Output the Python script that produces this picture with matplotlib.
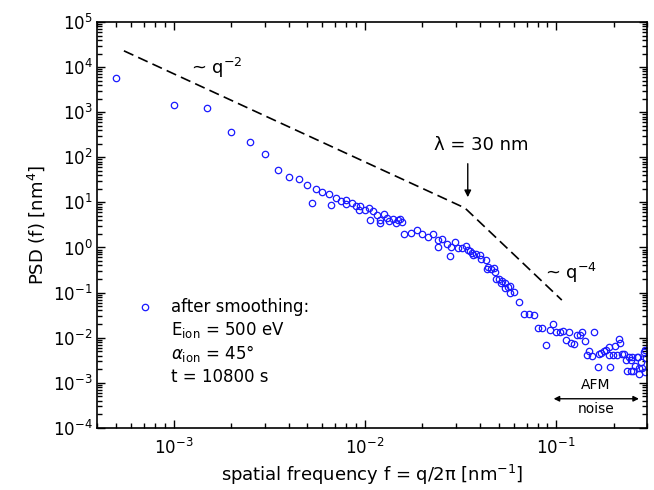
import numpy as np
import matplotlib
matplotlib.use("Agg")
import matplotlib.pyplot as plt

# spatial frequency [nm^-1] and PSD [nm^4]
freq = [5.0e-4, 1.0e-3, 1.5e-3, 2.0e-3, 2.5e-3, 3.0e-3, 3.5e-3, 4.0e-3, 4.5e-3, 5.0e-3,
        5.32e-3, 5.52e-3, 6.0e-3, 6.51e-3, 6.67e-3, 7.03e-3, 7.49e-3, 8.0e-3, 8.0e-3, 8.52e-3,
        9.02e-3, 9.47e-3, 9.35e-3, 1.0e-2, 1.049e-2, 1.067e-2, 1.104e-2, 1.152e-2, 1.198e-2, 1.204e-2,
        1.253e-2, 1.299e-2, 1.341e-2, 1.402e-2, 1.46e-2, 1.483e-2, 1.519e-2, 1.556e-2, 1.6e-2, 1.735e-2,
        1.87e-2, 2.0e-2, 2.137e-2, 2.27e-2, 2.40e-2, 2.40e-2, 2.54e-2, 2.68e-2, 2.80e-2, 2.81e-2,
        2.95e-2, 3.06e-2, 3.22e-2, 3.36e-2, 3.44e-2, 3.55e-2, 3.61e-2, 3.69e-2, 3.83e-2, 3.99e-2,
        4.05e-2, 4.29e-2, 4.37e-2, 4.41e-2, 4.54e-2, 4.74e-2, 4.79e-2, 4.83e-2, 5.05e-2, 5.24e-2,
        5.15e-2, 5.43e-2, 5.41e-2, 5.61e-2, 5.72e-2, 5.77e-2, 6.03e-2, 6.43e-2, 6.82e-2, 7.22e-2,
        7.66e-2, 8.05e-2, 8.47e-2, 8.84e-2, 9.25e-2, 9.65e-2, 9.96e-2, 0.1041, 0.1087, 0.112,
        0.1163, 0.1201, 0.124, 0.1288, 0.1326, 0.1371, 0.141, 0.148, 0.1576, 0.1444,
        0.1534, 0.1649, 0.1683, 0.172, 0.1769, 0.1832, 0.1881, 0.1895, 0.1922, 0.197,
        0.2023, 0.2075, 0.2135, 0.2151, 0.2208, 0.2267, 0.2317, 0.2345, 0.2388, 0.2452,
        0.2461, 0.2512, 0.2491, 0.2567, 0.263, 0.2688, 0.2721, 0.2725, 0.2767, 0.2821,
        0.2861, 0.2914, 0.2949, 0.2928]
psd = [5800, 1420, 1220, 370, 215, 118, 53.2, 36.6, 33.1, 24.7,
       9.7, 19.9, 17.0, 15.6, 8.78, 12.7, 10.9, 11.3, 9.23, 9.47,
       8.13, 8.34, 6.80, 6.90, 7.34, 4.12, 6.56, 5.32, 4.08, 3.56,
       5.62, 4.59, 3.92, 4.34, 3.56, 4.08, 4.23, 3.63, 2.03, 2.13,
       2.43, 1.95, 1.73, 2.0, 1.04, 1.44, 1.56, 1.19, 0.634, 1.04,
       1.33, 0.953, 0.977, 1.09, 0.861, 0.851, 0.769, 0.694, 0.719, 0.684,
       0.549, 0.530, 0.330, 0.376, 0.330, 0.347, 0.292, 0.198, 0.198, 0.184,
       0.161, 0.161, 0.125, 0.136, 0.0998, 0.141, 0.103, 0.0621, 0.0342, 0.0342,
       0.0323, 0.0167, 0.0167, 0.00698, 0.0150, 0.0196, 0.0136, 0.0136, 0.0137, 0.00883,
       0.0131, 0.00778, 0.0071, 0.0116, 0.0116, 0.0133, 0.00848, 0.00516, 0.0136, 0.00405,
       0.00394, 0.00227, 0.00442, 0.00453, 0.00514, 0.00522, 0.00415, 0.00634, 0.00225, 0.00413,
       0.00667, 0.00405, 0.00953, 0.00746, 0.00426, 0.00426, 0.00317, 0.00183, 0.0038, 0.00321,
       0.00186, 0.00186, 0.0038, 0.00234, 0.00375, 0.0038, 0.00157, 0.0021, 0.00295, 0.0021,
       0.00491, 0.00171, 0.00351, 0.00536]

# guide lines ~q^-2 and ~q^-4, break at lambda = 30 nm
guide_f = [5.5e-4, 1 / 30.0, 0.107]
guide_psd = [2.3e4, 7.5, 0.068]

plt.rcParams['font.family'] = 'DejaVu Sans'
plt.rcParams['lines.scale_dashes'] = False

fig = plt.figure(figsize=(6.54, 4.90), dpi=100)
ax = fig.add_axes([0.149, 0.127, 0.841, 0.828])

ax.plot(freq, psd, 'o', ls='none', ms=4.6, mfc='none', mec='#1a1aff', mew=0.9)
ax.plot(guide_f, guide_psd, color='black', lw=1.2, dashes=(7.5, 3.8))

ax.set_xscale('log')
ax.set_yscale('log')
ax.set_xlim(4e-4, 0.3)
ax.set_ylim(1e-4, 1e5)
ax.set_yticks([10.0 ** k for k in range(-4, 6)])
ax.set_xticks([1e-3, 1e-2, 1e-1])

for s in ax.spines.values():
    s.set_linewidth(1.2)
ax.tick_params(which='both', direction='in', top=True, right=True, labelsize=12, width=1.0)
ax.tick_params(which='major', length=6)
ax.tick_params(which='minor', length=3.5)
ax.tick_params(axis='x', which='major', pad=7)

ax.set_xlabel('spatial frequency f = q/2π [nm$^{-1}$]', fontsize=13)
ax.set_ylabel(r'PSD (f) [nm$^{4}$]', fontsize=13)

ax.text(1.24e-3, 9.6e3, r'~ q$^{-2}$', fontsize=13, va='center', ha='left')
ax.text(0.119, 0.27, r'~ q$^{-4}$', fontsize=13, va='center', ha='center')
ax.text(0.0408, 188, 'λ = 30 nm', fontsize=13, va='center', ha='center')
ax.annotate('', xy=(0.0345, 11.3), xytext=(0.0345, 83),
            arrowprops=dict(arrowstyle='-|>', color='black', lw=1.0, mutation_scale=10))

# AFM noise region
ax.annotate('', xy=(0.0938, 4.4e-4), xytext=(0.28, 4.4e-4),
            arrowprops=dict(arrowstyle='<|-|>', color='black', lw=1.0, mutation_scale=8))
ax.text(0.161, 9.0e-4, 'AFM', fontsize=10, ha='center', va='center')
ax.text(0.161, 2.6e-4, 'noise', fontsize=10, ha='center', va='center')

# legend-like block
ax.plot([0.086], [0.298], 'o', ms=4.6, mfc='none', mec='#1a1aff', mew=0.9,
        transform=ax.transAxes, clip_on=False)
lines = ['after smoothing:', r'E$_{\rm ion}$ = 500 eV', r'$\alpha_{\rm ion}$ = 45°', 't = 10800 s']
for i, t in enumerate(lines):
    ax.text(0.134, 0.298 - i * 0.0575, t, fontsize=12, va='center', ha='left',
            transform=ax.transAxes)

fig.savefig('out.png', dpi=100)
